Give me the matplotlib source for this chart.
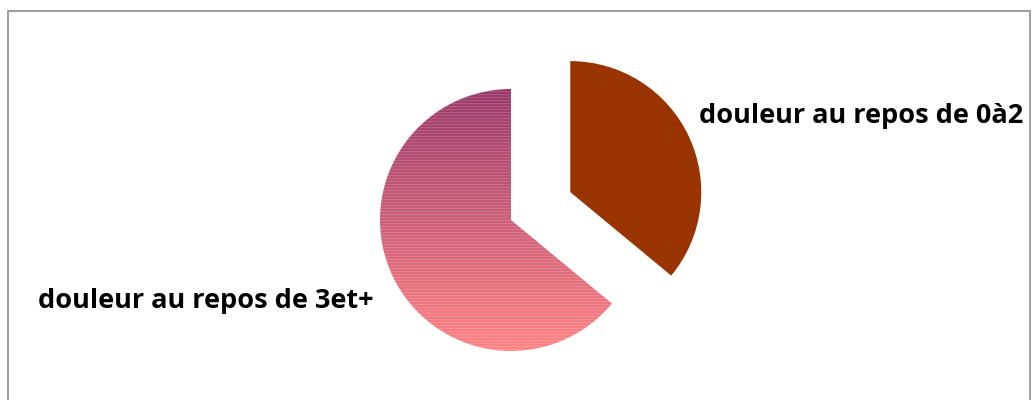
import numpy as np
import matplotlib
matplotlib.use('Agg')
import matplotlib.pyplot as plt
from matplotlib.patches import Rectangle
from matplotlib.colors import LinearSegmentedColormap

# pie data
labels = ['douleur au repos de 0à2', 'douleur au repos de 3et+']
values = [36, 64]

W, H = 1033, 400
R = 131
fig = plt.figure(figsize=(W / 100, H / 100), dpi=100)
ax = fig.add_axes([0, 0, 1, 1])

# chart frame (bottom runs past the image)
ax.add_patch(Rectangle((8, -10), 1022, 400 - 11 + 10, fill=False,
                       edgecolor='#8c8c8c', linewidth=1.2))

# explode is in data units here, so half the radius
wedges, _ = ax.pie(values, center=(511, 180), radius=R, startangle=90,
                   counterclock=False, explode=[0.5 * R, 0],
                   colors=['#993300', '#ff8080'], frame=True,
                   wedgeprops=dict(linewidth=0))
ax.set_xlim(0, W)
ax.set_ylim(0, H)
ax.set_aspect('equal')
ax.axis('off')

# gradient fill for the second slice
cmap = LinearSegmentedColormap.from_list('pinkgrad', ['#9b3a6b', '#ff8585'])
rows = 264
grad = np.linspace(0, 1, rows)
img = cmap(grad)[:, None, :3].repeat(2, axis=1)
img[::3] = img[::3] * 0.85 + 0.15  # faint light stripes
wedges[1].set_facecolor('none')
im = ax.imshow(img, extent=(380, 642, 48, 312), origin='upper',
               aspect='auto', interpolation='nearest', zorder=2)
im.set_clip_path(wedges[1])

font = dict(family='Open Sans', weight='bold', fontsize=19.5, color='black')
ax.text(699, 284, labels[0], ha='left', va='center', **font)
ax.text(38, 99, labels[1], ha='left', va='center', **font)

fig.savefig('out.png', dpi=100)
